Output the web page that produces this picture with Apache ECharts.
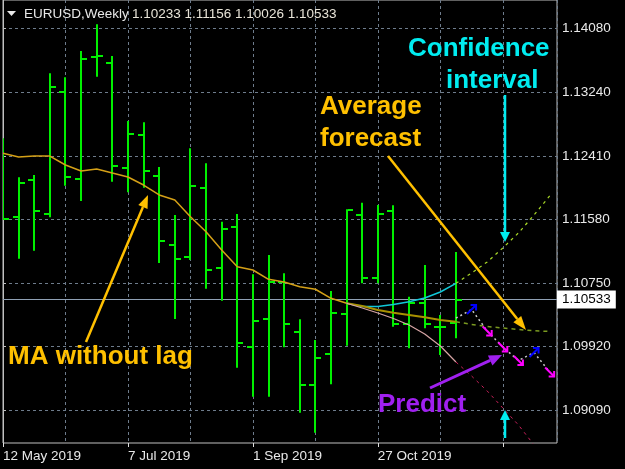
<!DOCTYPE html>
<html>
<head>
<meta charset="utf-8">
<script src="https://cdn.jsdelivr.net/npm/echarts@6/dist/echarts.min.js"></script>
<style>
html, body { margin: 0; padding: 0; background: #000; }
#main { width: 625px; height: 469px; }
</style>
</head>
<body>
<div id="main"></div>
<script>
// weekly OHLC, bar 0 = 12 May 2019 ... bar 29 = 1 Dec 2019
const opens = [1.12400, 1.11609, 1.12101, 1.11656, 1.13243, 1.12114, 1.13710, 1.13622, 1.12257, 1.12689,
  1.12149, 1.11247, 1.11090, 1.11988, 1.10942, 1.11478, 1.09909, 1.10279, 1.10767, 1.10113,
  1.09416, 1.09818, 1.10341, 1.11635, 1.10811, 1.11691, 1.10210, 1.10492, 1.10180, 1.10233];
const highs = [1.12642, 1.12132, 1.12162, 1.13492, 1.13439, 1.13783, 1.14132, 1.13718, 1.12868, 1.12851,
  1.12267, 1.11639, 1.12511, 1.12315, 1.11551, 1.11652, 1.10864, 1.11116, 1.10877, 1.10275,
  1.10005, 1.10645, 1.11714, 1.11800, 1.11770, 1.11766, 1.10571, 1.10985, 1.10332, 1.11156];
const lows = [1.11574, 1.11068, 1.11172, 1.11609, 1.12022, 1.11822, 1.13447, 1.12074, 1.11936, 1.11996,
  1.11012, 1.10279, 1.11051, 1.10676, 1.10519, 1.09643, 1.09264, 1.09264, 1.09909, 1.09054,
  1.08793, 1.09426, 1.09930, 1.10746, 1.10746, 1.10179, 1.09896, 1.10158, 1.09809, 1.10026];
const closes = [1.11587, 1.12054, 1.11691, 1.13316, 1.12132, 1.13683, 1.13720, 1.12284, 1.12702, 1.12218,
  1.11295, 1.11068, 1.12022, 1.10920, 1.11452, 1.09962, 1.10253, 1.10767, 1.10214, 1.09416,
  1.09766, 1.10354, 1.11704, 1.10811, 1.11648, 1.10210, 1.10492, 1.10214, 1.10175, 1.10533];

// MA without lag, bars 0..22
const maLine = [1.12446, 1.12397, 1.12410, 1.12410, 1.12293, 1.12214, 1.12241, 1.12188, 1.12136, 1.12031,
  1.11901, 1.11835, 1.11617, 1.11421, 1.11182, 1.10963, 1.10920, 1.10798, 1.10763, 1.10702,
  1.10668, 1.10550, 1.10485];

// forecast band, solid from bar 22, dashed from bar 29
const upperFit = [1.10485, 1.10443, 1.10443, 1.10469, 1.10506, 1.10554, 1.10632, 1.10746];
const upperFut = [1.10746, 1.10881, 1.11025, 1.11208, 1.11404, 1.11639, 1.11888];
const midFit = [1.10485, 1.10449, 1.10397, 1.10362, 1.10332, 1.10302, 1.10266, 1.10244];
const midFut = [1.10244, 1.10208, 1.10181, 1.10162, 1.10142, 1.10126, 1.10116];
const lowerFit = [1.10485, 1.10423, 1.10358, 1.10286, 1.10201, 1.10083, 1.09926, 1.09717];
const lowerFut = [1.09717, 1.09534, 1.09338, 1.09116, 1.08894, 1.08632];
// predict path from bar 29
const predict = [1.10290, 1.10404, 1.10123, 1.09913, 1.09737, 1.09841, 1.09587];

const priceTicks = [1.09090, 1.09920, 1.10750, 1.11580, 1.12410, 1.13240, 1.14080];
const labelWeeks = [0, 8, 16, 24];
const dateLabels = ["12 May 2019", "7 Jul 2019", "1 Sep 2019", "27 Oct 2019"];

const FONT = '"Liberation Sans", Arial, sans-serif';
const GREEN = "#00f000";

function from(start, arr) {
  return arr.map(function (v, i) { return [start + i, v]; });
}

const ohlc = opens.map(function (o, i) { return [i, o, highs[i], lows[i], closes[i]]; });

const arrows = [];
for (let i = 1; i < predict.length; i++) {
  arrows.push([29 + i, predict[i], predict[i] > predict[i - 1] ? 1 : -1]);
}

function arrow(x1, y1, x2, y2, color, w, head, hw) {
  const a = Math.atan2(y2 - y1, x2 - x1);
  const bx = x2 - head * Math.cos(a), by = y2 - head * Math.sin(a);
  const sx = hw * Math.sin(a), sy = hw * Math.cos(a);
  return [
    { type: "line", shape: { x1: x1, y1: y1, x2: bx, y2: by }, style: { stroke: color, lineWidth: w }, z: 100 },
    { type: "polygon", shape: { points: [[x2, y2], [bx - sx, by + sy], [bx + sx, by - sy]] }, style: { fill: color }, z: 100 },
  ];
}

function note(text, x, y, color) {
  return { type: "text", x: x, y: y, z: 100,
    style: { text: text, fill: color, font: "bold 26px " + FONT, verticalAlign: "middle" } };
}

const GOLD = "#ffc000", CYAN = "#00ecf0", PURPLE = "#a020f0";

const myChart = echarts.init(document.getElementById("main"));

var option = {
  backgroundColor: "#000",
  animation: false,
  grid: {
    left: 3, right: 68, top: 0, bottom: 26,
    show: true, borderColor: "#c0c0c0", borderWidth: 1,
  },
  xAxis: [
    {
      type: "value", min: 0, max: 35.47, interval: 4,
      axisLine: { show: false }, axisTick: { show: false }, axisLabel: { show: false },
      splitLine: { show: true, lineStyle: { color: "#6e7c8c", type: [3, 3], width: 1 } },
    },
    {
      type: "value", min: 0, max: 35.47, interval: 8, position: "bottom",
      axisLine: { show: false },
      axisTick: { show: true, length: 4, lineStyle: { color: "#e0e0e0" } },
      splitLine: { show: false },
      axisLabel: {
        color: "#e8e8e8", fontFamily: FONT, fontSize: 13.5, align: "left", margin: 6,
        showMaxLabel: false,
        formatter: function (v) {
          var k = labelWeeks.indexOf(v);
          return k >= 0 ? dateLabels[k] : "";
        },
      },
    },
  ],
  yAxis: {
    type: "value", position: "right", min: 1.08658, max: 1.14450,
    axisLine: { show: true, lineStyle: { color: "#c0c0c0" } },
    axisTick: { show: true, length: 3, customValues: priceTicks, lineStyle: { color: "#c0c0c0" } },
    axisLabel: {
      customValues: priceTicks, color: "#e8e8e8", fontFamily: FONT, fontSize: 13.5, margin: 5,
      formatter: function (v) { return v.toFixed(5); },
    },
    splitLine: { show: true, lineStyle: { color: "#6e7c8c", type: [3, 3], width: 1 } },
  },
  series: [
    {
      type: "custom",
      clip: true,
      z: 3,
      data: ohlc,
      renderItem: function (params, api) {
        var x = api.value(0);
        var ph = api.coord([x, api.value(2)]);
        var pl = api.coord([x, api.value(3)]);
        var po = api.coord([x, api.value(1)]);
        var pc = api.coord([x, api.value(4)]);
        var cx = Math.round(ph[0]);
        var st = { fill: GREEN };
        return {
          type: "group",
          children: [
            { type: "rect", shape: { x: cx - 1, y: ph[1], width: 2, height: pl[1] - ph[1] }, style: st },
            { type: "rect", shape: { x: cx - 6, y: Math.round(po[1]) - 1, width: 5, height: 2 }, style: st },
            { type: "rect", shape: { x: cx + 1, y: Math.round(pc[1]) - 1, width: 5, height: 2 }, style: st },
          ],
        };
      },
    },
    {
      type: "line", z: 4, symbol: "none", data: from(0, maLine),
      lineStyle: { color: "#d4a017", width: 1.5 },
      markLine: {
        silent: true, symbol: "none", z: 1, precision: 5,
        data: [{ yAxis: closes[closes.length - 1] }],
        lineStyle: { color: "#8fa0b4", type: "solid", width: 1 },
        label: {
          position: "end", distance: 0, formatter: closes[closes.length - 1].toFixed(5),
          backgroundColor: "#fff", color: "#000", padding: [2, 5, 2, 5],
          fontFamily: FONT, fontSize: 13.5,
        },
      },
    },
    { type: "line", z: 4, symbol: "none", data: from(22, upperFit), lineStyle: { color: "#10c8d8", width: 1.5 } },
    { type: "line", z: 4, symbol: "none", data: from(29, upperFut), lineStyle: { color: "#a8d828", width: 1.2, type: [3, 4] } },
    { type: "line", z: 4, symbol: "none", data: from(22, midFit), lineStyle: { color: "#a89000", width: 2 } },
    { type: "line", z: 4, symbol: "none", data: from(29, midFut), lineStyle: { color: "#7a9a20", width: 1.5, type: [4, 4] } },
    { type: "line", z: 4, symbol: "none", data: from(22, lowerFit), lineStyle: { color: "#d6a4a4", width: 1.2 } },
    { type: "line", z: 4, symbol: "none", data: from(29, lowerFut), lineStyle: { color: "#c8205a", width: 1, type: [3, 4] } },
    { type: "line", z: 5, symbol: "none", data: from(29, predict), lineStyle: { color: "#c8c8c8", width: 1.5, type: [2, 3] } },
    {
      type: "custom", z: 6, data: arrows,
      renderItem: function (params, api) {
        var p = api.coord([api.value(0), api.value(1)]);
        var up = api.value(2) > 0;
        var x = p[0], y = p[1], s = 4.5;
        var color = up ? "#0000ff" : "#ff00ff";
        var st = { stroke: color, lineWidth: 2, fill: null };
        var shaft, head;
        if (up) {
          shaft = { x1: x - s, y1: y + s, x2: x + s, y2: y - s };
          head = [[x - 1, y - s], [x + s, y - s], [x + s, y + 1]];
        } else {
          shaft = { x1: x - s, y1: y - s, x2: x + s, y2: y + s };
          head = [[x + s, y - 1], [x + s, y + s], [x - 1, y + s]];
        }
        return {
          type: "group",
          children: [
            { type: "line", shape: shaft, style: st },
            { type: "polyline", shape: { points: head }, style: st },
          ],
        };
      },
    },
  ],
  graphic: [
    { type: "polygon", shape: { points: [[7, 11], [16, 11], [11.5, 16]] }, style: { fill: "#e8e8e8" }, z: 100 },
    { type: "text", x: 24, y: 14, z: 100, style: { text: "EURUSD,Weekly", fill: "#e8e8e8", font: "13.5px " + FONT, verticalAlign: "middle" } },
    { type: "text", x: 132, y: 14, z: 100, style: { text: "1.10233 1.11156 1.10026 1.10533", fill: "#e8e4d8", font: "13.5px " + FONT, verticalAlign: "middle" } },
    note("Confidence", 408, 49, CYAN),
    note("interval", 446, 81, CYAN),
    note("Average", 320, 107, GOLD),
    note("forecast", 320, 139, GOLD),
    note("MA without lag", 8, 357, GOLD),
    note("Predict", 378, 405, PURPLE),
  ]
    .concat(arrow(86, 342, 148, 195, GOLD, 2.5, 13, 5))
    .concat(arrow(388, 156, 526, 330, GOLD, 2.5, 14, 5))
    .concat(arrow(505, 95, 505, 242, CYAN, 2.5, 10, 5))
    .concat(arrow(505, 438, 505, 410, CYAN, 2.5, 10, 5))
    .concat(arrow(430, 388, 502, 355, PURPLE, 3, 13, 5.5)),
};
myChart.setOption(option);
</script>
</body>
</html>
